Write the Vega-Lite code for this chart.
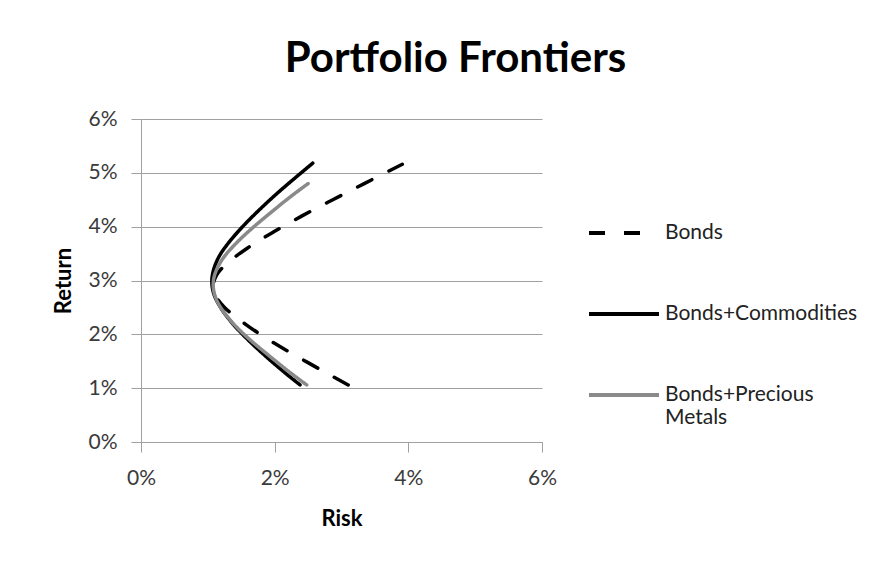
{
  "$schema": "https://vega.github.io/schema/vega-lite/v6.json",
  "width": 401,
  "height": 323,
  "autosize": "none",
  "padding": {"left": 141, "top": 119, "right": 352, "bottom": 123},
  "background": "white",
  "title": {
    "text": "Portfolio Frontiers",
    "font": "Lato",
    "fontSize": 42,
    "fontWeight": "bold",
    "color": "black",
    "anchor": "middle",
    "frame": "bounds",
    "offset": 27
  },
  "config": {
    "view": {"stroke": null},
    "font": "Lato",
    "axis": {
      "domainColor": "#a0a0a0",
      "tickColor": "#a0a0a0",
      "gridColor": "#a0a0a0",
      "tickSize": 10,
      "labelFont": "Lato",
      "labelFontSize": 21,
      "labelColor": "#3a3a3a",
      "labelFlush": false,
      "titleFont": "Lato",
      "titleFontSize": 22,
      "titleFontWeight": "bold",
      "titleColor": "black"
    }
  },
  "data": {
    "values": [
      {"series": "Bonds", "risk": 0.0310, "ret": 0.0106},
      {"series": "Bonds", "risk": 0.0275, "ret": 0.0130},
      {"series": "Bonds", "risk": 0.0232, "ret": 0.0160},
      {"series": "Bonds", "risk": 0.0191, "ret": 0.0190},
      {"series": "Bonds", "risk": 0.0155, "ret": 0.0220},
      {"series": "Bonds", "risk": 0.0125, "ret": 0.0250},
      {"series": "Bonds", "risk": 0.01125, "ret": 0.0270},
      {"series": "Bonds", "risk": 0.0108, "ret": 0.0290},
      {"series": "Bonds", "risk": 0.0113, "ret": 0.0310},
      {"series": "Bonds", "risk": 0.0127, "ret": 0.0330},
      {"series": "Bonds", "risk": 0.0159, "ret": 0.0360},
      {"series": "Bonds", "risk": 0.0198, "ret": 0.0390},
      {"series": "Bonds", "risk": 0.0241, "ret": 0.0420},
      {"series": "Bonds", "risk": 0.0287, "ret": 0.0450},
      {"series": "Bonds", "risk": 0.0334, "ret": 0.0480},
      {"series": "Bonds", "risk": 0.0391, "ret": 0.0516},

      {"series": "Bonds+Commodities", "risk": 0.0238, "ret": 0.0106},
      {"series": "Bonds+Commodities", "risk": 0.0214, "ret": 0.0130},
      {"series": "Bonds+Commodities", "risk": 0.0186, "ret": 0.0160},
      {"series": "Bonds+Commodities", "risk": 0.0160, "ret": 0.0190},
      {"series": "Bonds+Commodities", "risk": 0.0137, "ret": 0.0220},
      {"series": "Bonds+Commodities", "risk": 0.0119, "ret": 0.0250},
      {"series": "Bonds+Commodities", "risk": 0.0109, "ret": 0.0275},
      {"series": "Bonds+Commodities", "risk": 0.0106, "ret": 0.0298},
      {"series": "Bonds+Commodities", "risk": 0.01086, "ret": 0.0320},
      {"series": "Bonds+Commodities", "risk": 0.0117, "ret": 0.0345},
      {"series": "Bonds+Commodities", "risk": 0.0131, "ret": 0.0370},
      {"series": "Bonds+Commodities", "risk": 0.0152, "ret": 0.0400},
      {"series": "Bonds+Commodities", "risk": 0.0176, "ret": 0.0430},
      {"series": "Bonds+Commodities", "risk": 0.0202, "ret": 0.0460},
      {"series": "Bonds+Commodities", "risk": 0.0230, "ret": 0.0490},
      {"series": "Bonds+Commodities", "risk": 0.0257, "ret": 0.0518},

      {"series": "Bonds+Precious Metals", "risk": 0.0248, "ret": 0.0106},
      {"series": "Bonds+Precious Metals", "risk": 0.0222, "ret": 0.0130},
      {"series": "Bonds+Precious Metals", "risk": 0.0192, "ret": 0.0160},
      {"series": "Bonds+Precious Metals", "risk": 0.0163, "ret": 0.0190},
      {"series": "Bonds+Precious Metals", "risk": 0.0138, "ret": 0.0220},
      {"series": "Bonds+Precious Metals", "risk": 0.0119, "ret": 0.0250},
      {"series": "Bonds+Precious Metals", "risk": 0.01106, "ret": 0.0272},
      {"series": "Bonds+Precious Metals", "risk": 0.0108, "ret": 0.0292},
      {"series": "Bonds+Precious Metals", "risk": 0.01106, "ret": 0.0312},
      {"series": "Bonds+Precious Metals", "risk": 0.0122, "ret": 0.0340},
      {"series": "Bonds+Precious Metals", "risk": 0.0143, "ret": 0.0370},
      {"series": "Bonds+Precious Metals", "risk": 0.0169, "ret": 0.0400},
      {"series": "Bonds+Precious Metals", "risk": 0.0198, "ret": 0.0430},
      {"series": "Bonds+Precious Metals", "risk": 0.0223, "ret": 0.0455},
      {"series": "Bonds+Precious Metals", "risk": 0.0250, "ret": 0.0480}
    ]
  },
  "mark": {
    "type": "line",
    "strokeWidth": 3.5,
    "strokeCap": "round",
    "interpolate": "catmull-rom",
    "clip": false
  },
  "encoding": {
    "x": {
      "field": "risk",
      "type": "quantitative",
      "scale": {"domain": [0, 0.06], "nice": false},
      "axis": {
        "values": [0, 0.02, 0.04, 0.06],
        "format": ".0%",
        "grid": false,
        "title": "Risk",
        "labelPadding": 15,
        "titlePadding": 20
      }
    },
    "y": {
      "field": "ret",
      "type": "quantitative",
      "scale": {"domain": [0, 0.06], "nice": false},
      "axis": {
        "values": [0, 0.01, 0.02, 0.03, 0.04, 0.05, 0.06],
        "format": ".0%",
        "grid": true,
        "title": "Return",
        "labelPadding": 14,
        "titlePadding": 12
      }
    },
    "color": {
      "field": "series",
      "type": "nominal",
      "scale": {
        "domain": ["Bonds", "Bonds+Commodities", "Bonds+Precious Metals"],
        "range": ["#000000", "#000000", "#8a8a8a"]
      },
      "legend": {
        "title": null,
        "orient": "none",
        "legendX": 446,
        "legendY": 77,
        "symbolType": "stroke",
        "symbolSize": 4900,
        "symbolStrokeWidth": 4,
        "labelFont": "Lato",
        "labelFontSize": 21,
        "labelColor": "#222222",
        "labelOffset": 4,
        "labelLimit": 400,
        "rowPadding": 34,
        "labelExpr": "datum.label == 'Bonds+Precious Metals' ? ['Bonds+Precious', 'Metals'] : datum.label"
      }
    },
    "strokeDash": {
      "field": "series",
      "type": "nominal",
      "scale": {
        "domain": ["Bonds", "Bonds+Commodities", "Bonds+Precious Metals"],
        "range": [[16, 19], [1, 0], [1, 0]]
      }
    },
    "order": {"field": "ret"}
  }
}
